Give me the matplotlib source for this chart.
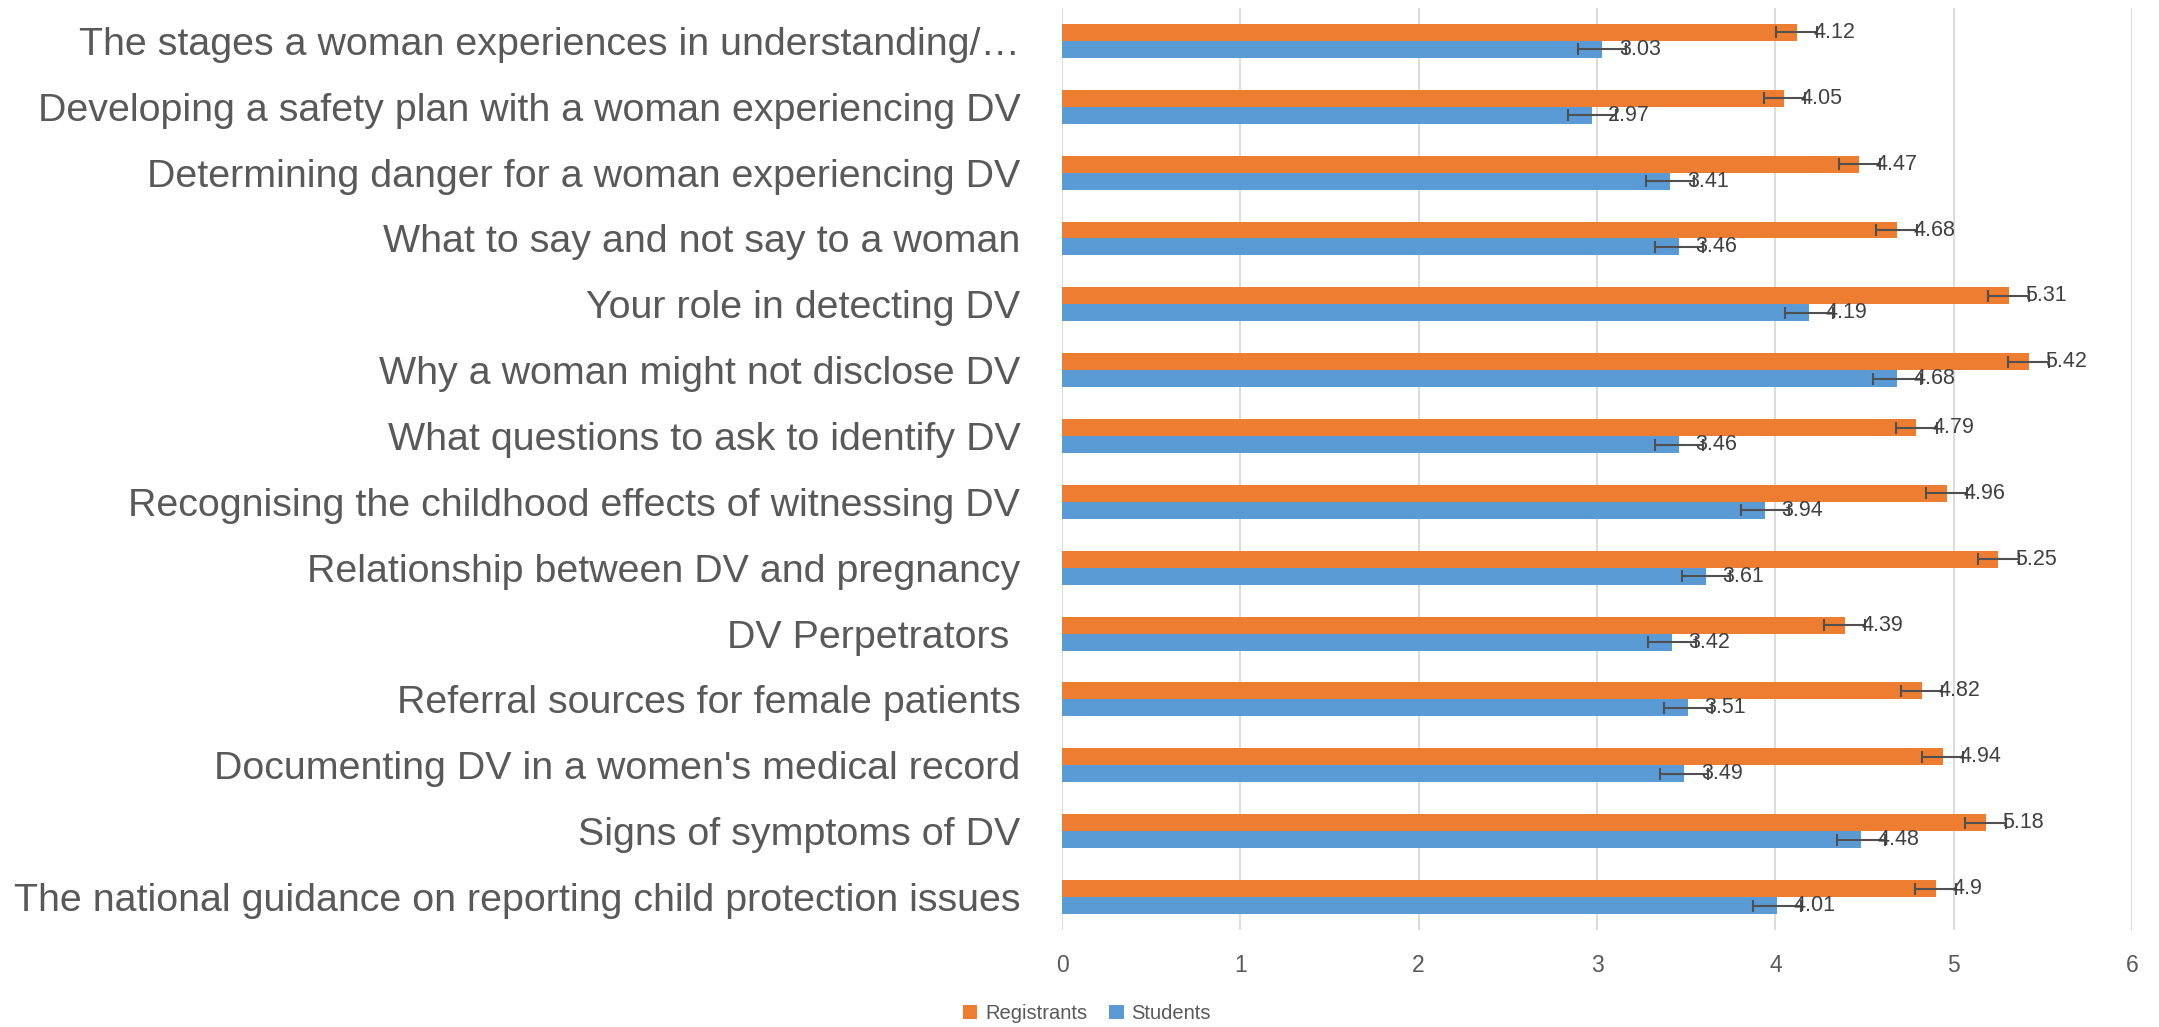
import matplotlib
matplotlib.use("Agg")
import matplotlib.pyplot as plt
from matplotlib import font_manager
import numpy as np

categories = [
    "The stages a woman experiences in understanding/…",
    "Developing a safety plan with a woman experiencing DV",
    "Determining danger for a woman experiencing DV",
    "What to say and not say to a woman",
    "Your role in detecting DV",
    "Why a woman might not disclose DV",
    "What questions to ask to identify DV",
    "Recognising the childhood effects of witnessing DV",
    "Relationship between DV and pregnancy",
    "DV Perpetrators ",
    "Referral sources for female patients",
    "Documenting DV in a women's medical record",
    "Signs of symptoms of DV",
    "The national guidance on reporting child protection issues",
]
registrants = [4.12, 4.05, 4.47, 4.68, 5.31, 5.42, 4.79, 4.96, 5.25, 4.39, 4.82, 4.94, 5.18, 4.9]
students = [3.03, 2.97, 3.41, 3.46, 4.19, 4.68, 3.46, 3.94, 3.61, 3.42, 3.51, 3.49, 4.48, 4.01]
registrants_err = 0.115
students_err = 0.135
xticks = [0, 1, 2, 3, 4, 5, 6]

names = {f.name for f in font_manager.fontManager.ttflist}
label_font = "Liberation Sans Narrow" if "Liberation Sans Narrow" in names else "Liberation Sans"
plt.rcParams['font.family'] = [label_font, 'DejaVu Sans']

ORANGE = "#ED7D31"
BLUE = "#5B9BD5"
TXT = "#404040"
TICK = "#595959"

fig = plt.figure(figsize=(21.59, 10.27), dpi=100)
ax = fig.add_axes([0.4919, 0.0945, 0.4956, 0.8977])

y = np.arange(len(categories))
h = 0.258
err_kw = dict(ecolor="#505050", elinewidth=1.5, capsize=4.5, capthick=1.5)
ax.barh(y - h / 2, registrants, height=h, color=ORANGE, label="Registrants",
        xerr=registrants_err, error_kw=err_kw, zorder=3)
ax.barh(y + h / 2, students, height=h, color=BLUE, label="Students",
        xerr=students_err, error_kw=err_kw, zorder=3)

vfont = ["Liberation Sans", "DejaVu Sans"]
for yi, v in zip(y, registrants):
    ax.annotate(f"{v:g}", xy=(v, yi - h / 2), xytext=(12, 0), textcoords="offset points",
                va="center", ha="left", fontsize=15.5, color=TXT, zorder=5, family=vfont)
for yi, v in zip(y, students):
    ax.annotate(f"{v:g}", xy=(v, yi + h / 2), xytext=(12, 0), textcoords="offset points",
                va="center", ha="left", fontsize=15.5, color=TXT, zorder=5, family=vfont)

ax.set_ylim(len(categories) - 0.5, -0.5)
ax.set_xlim(0, 6)
ax.set_xticks(xticks)
ax.set_xticklabels([str(t) for t in xticks], fontsize=16.5, color=TICK)
ax.set_yticks(y)
ax.set_yticklabels(categories, fontsize=28.4, color=TICK)
ax.tick_params(axis="both", length=0)
ax.tick_params(axis="y", pad=30)
ax.tick_params(axis="x", pad=17)
ax.grid(axis="x", color="#D9D9D9", linewidth=1.3, zorder=0)
ax.set_axisbelow(True)
for s in ax.spines.values():
    s.set_visible(False)

handles, labels = ax.get_legend_handles_labels()
fig.legend(handles, labels, loc="center", bbox_to_anchor=(0.5035, 0.013), ncol=2,
           frameon=False, fontsize=14.5, handlelength=0.7, handleheight=0.7,
           columnspacing=1.1, handletextpad=0.4, labelcolor=TICK)

fig.savefig("out.png", dpi=100)
